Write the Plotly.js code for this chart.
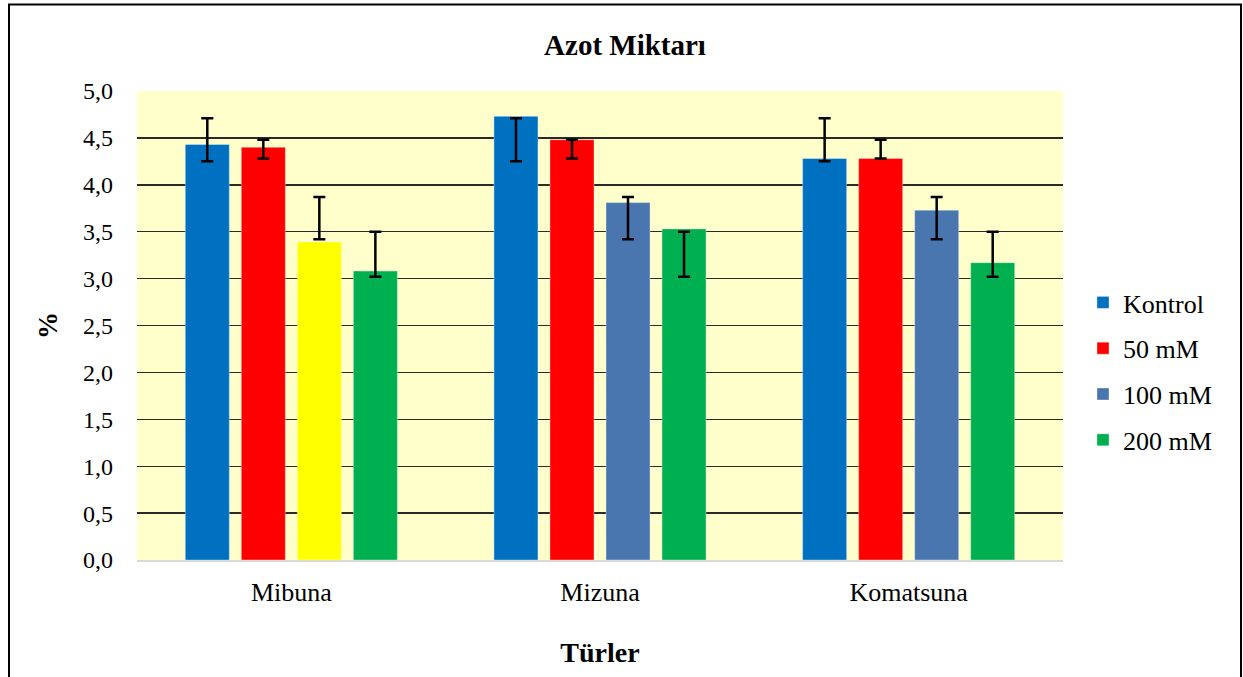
<!DOCTYPE html>
<html>
<head>
<meta charset="utf-8">
<script src="https://cdn.plot.ly/plotly-3.0.1.min.js"></script>
<style>
  html, body { margin: 0; padding: 0; background: #fff; }
  #chart { width: 1243px; height: 677px; }
</style>
</head>
<body>
<div id="chart"></div>
<script>
// ---- data ----
const categories = ["Mibuna", "Mizuna", "Komatsuna"];
const seriesNames = ["Kontrol", "50 mM", "100 mM", "200 mM"];
const kontrol = [4.43, 4.73, 4.28];
const mm50 = [4.40, 4.48, 4.28];
const mm100 = [3.39, 3.81, 3.73];
const mm200 = [3.08, 3.53, 3.17];
// error bar ends (upper / lower)
const kontrolErrTop = [4.71, 4.71, 4.71];
const kontrolErrBot = [4.25, 4.25, 4.25];
const mm50ErrTop = [4.48, 4.48, 4.48];
const mm50ErrBot = [4.28, 4.28, 4.28];
const mm100ErrTop = [3.87, 3.87, 3.87];
const mm100ErrBot = [3.42, 3.42, 3.42];
const mm200ErrTop = [3.50, 3.50, 3.50];
const mm200ErrBot = [3.02, 3.02, 3.02];
const yTickVals = [0, 0.5, 1, 1.5, 2, 2.5, 3, 3.5, 4, 4.5, 5];
const yTickText = ["0,0", "0,5", "1,0", "1,5", "2,0", "2,5", "3,0", "3,5", "4,0", "4,5", "5,0"];

const colors = ["#0070C0", "#FF0000", "#4A76B0", "#00B050"];
const highlightColor = "#FFFF00"; // Mibuna 100 mM bar

const FONT = "Liberation Serif, Times New Roman, serif";

function errBar(vals, top, bot) {
  return {
    type: "data", symmetric: false,
    array: vals.map((v, i) => top[i] - v),
    arrayminus: vals.map((v, i) => v - bot[i]),
    color: "#000", thickness: 2.5, width: 6
  };
}

function barTrace(name, vals, top, bot, color, group, opts) {
  return Object.assign({
    type: "bar", name: name, x: categories, y: vals,
    offsetgroup: group, legendgroup: group,
    marker: { color: color, line: { color: "rgba(255,255,255,0.35)", width: 1 } },
    error_y: errBar(vals, top, bot),
    hoverinfo: "x+y+name"
  }, opts || {});
}

const mm100Main = mm100.map((v, i) => i === 0 ? null : v);
const mm100Hi = mm100.map((v, i) => i === 0 ? v : null);

const traces = [
  barTrace(seriesNames[0], kontrol, kontrolErrTop, kontrolErrBot, colors[0], "g0"),
  barTrace(seriesNames[1], mm50, mm50ErrTop, mm50ErrBot, colors[1], "g1"),
  barTrace(seriesNames[2], mm100Main, mm100ErrTop, mm100ErrBot, colors[2], "g2"),
  barTrace(seriesNames[2], mm100Hi, mm100ErrTop, mm100ErrBot, highlightColor, "g2", { showlegend: false }),
  barTrace(seriesNames[3], mm200, mm200ErrTop, mm200ErrBot, colors[3], "g3")
];

const W = 1243, H = 677;
const M = { l: 137, r: 180, t: 91, b: 117 };
const pw = W - M.l - M.r, ph = H - M.t - M.b;
const px2x = p => (p - M.l) / pw;
const px2y = p => (H - M.b - p) / ph;

const layout = {
  width: W, height: H,
  margin: M,
  paper_bgcolor: "#FFFFFF",
  plot_bgcolor: "#FFFFCC",
  barmode: "group",
  bargap: 0.274,
  bargroupgap: 0.214,
  font: { family: FONT, color: "#000", size: 25 },
  title: {
    text: "<b>Azot Miktarı</b>",
    font: { family: FONT, size: 29, color: "#000" },
    x: 625 / W, xanchor: "center",
    y: 1 - 45 / H, yanchor: "middle", yref: "container"
  },
  xaxis: {
    type: "category",
    showgrid: false,
    showline: true, linecolor: "#D9D9D9", linewidth: 2,
    ticks: "", tickfont: { family: FONT, size: 26, color: "#000" },
    ticklabelstandoff: 8,
    title: { text: "<b>Türler</b>", font: { family: FONT, size: 28, color: "#000" }, standoff: 36 }
  },
  yaxis: {
    range: [0, 5],
    tickvals: yTickVals, ticktext: yTickText,
    showgrid: true, gridcolor: "#2a2a2a", gridwidth: 1.4,
    zeroline: false, showline: false,
    ticks: "", tickfont: { family: FONT, size: 24, color: "#000" },
    ticklabelstandoff: 23,
    title: { text: "<b>%</b>", font: { family: FONT, size: 27, color: "#000" }, standoff: 17 }
  },
  legend: {
    x: px2x(1083), xanchor: "left",
    y: px2y(371.5), yanchor: "middle",
    bgcolor: "rgba(0,0,0,0)",
    font: { family: FONT, size: 26, color: "#000" },
    traceorder: "grouped", tracegroupgap: 9
  },
  shapes: [{
    type: "rect", xref: "paper", yref: "paper", layer: "above",
    x0: px2x(9), x1: px2x(1241), y0: px2y(690), y1: px2y(4.5),
    line: { color: "#000", width: 2 }, fillcolor: "rgba(0,0,0,0)"
  }],
  showlegend: true
};

Plotly.newPlot("chart", traces, layout, { staticPlot: true, displayModeBar: false });
</script>
</body>
</html>
